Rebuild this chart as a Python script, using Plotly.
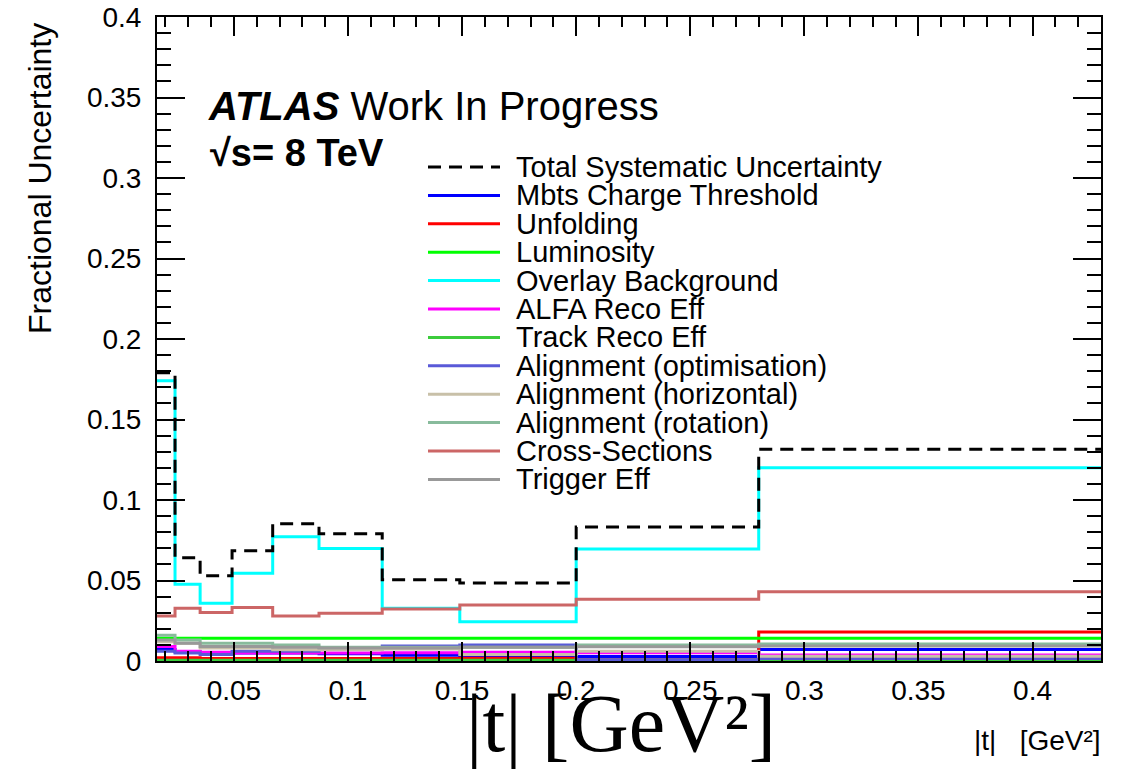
import plotly.graph_objects as go

# |t| bin edges [GeV^2]
t_edges = [0.0163, 0.0242, 0.0352, 0.0492, 0.0670, 0.0873, 0.1150, 0.1490, 0.2000, 0.2800, 0.4300]

# Fractional uncertainty per |t| bin for each source
total_syst   = [0.179, 0.0642, 0.053, 0.0685, 0.0853, 0.0791, 0.0505, 0.0485, 0.0832, 0.1315]
mbts         = [0.0072, 0.0058, 0.0050, 0.0050, 0.0050, 0.0045, 0.0035, 0.0030, 0.0028, 0.0072]
unfolding    = [0.0020, 0.0020, 0.0015, 0.0015, 0.0015, 0.0015, 0.0015, 0.0017, 0.0008, 0.0180]
luminosity   = [0.0142, 0.0142, 0.0142, 0.0142, 0.0142, 0.0142, 0.0142, 0.0142, 0.0142, 0.0142]
overlay_bkg  = [0.174, 0.0476, 0.0358, 0.0545, 0.0772, 0.0698, 0.0327, 0.0244, 0.0696, 0.1200]
alfa_reco    = [0.0090, 0.0060, 0.0055, 0.0050, 0.0050, 0.0050, 0.0052, 0.0055, 0.0052, 0.0037]
track_reco   = [0.0005, 0.0005, 0.0005, 0.0005, 0.0005, 0.0005, 0.0005, 0.0005, 0.0005, 0.0005]
align_opt    = [0.0060, 0.0050, 0.0040, 0.0060, 0.0060, 0.0075, 0.0093, 0.0100, 0.0008, 0.0016]
align_horiz  = [0.0120, 0.0110, 0.0080, 0.0080, 0.0070, 0.0070, 0.0075, 0.0040, 0.0060, 0.0030]
align_rot    = [0.0160, 0.0130, 0.0110, 0.0110, 0.0099, 0.0085, 0.0085, 0.0085, 0.0099, 0.0105]
cross_sec    = [0.0280, 0.0327, 0.0302, 0.0333, 0.0280, 0.0296, 0.0323, 0.0348, 0.0383, 0.0430]
trigger_eff  = [0.0130, 0.0110, 0.0090, 0.0090, 0.0085, 0.0080, 0.0080, 0.0085, 0.0088, 0.0093]

sources = [
    ("Total Systematic Uncertainty", total_syst, "#000000", "dash"),
    ("Mbts Charge Threshold", mbts, "#0000ff", "solid"),
    ("Unfolding", unfolding, "#ff0000", "solid"),
    ("Luminosity", luminosity, "#00ff00", "solid"),
    ("Overlay Background", overlay_bkg, "#00ffff", "solid"),
    ("ALFA Reco Eff", alfa_reco, "#ff00ff", "solid"),
    ("Track Reco Eff", track_reco, "#3ccc3c", "solid"),
    ("Alignment (optimisation)", align_opt, "#5a5ad8", "solid"),
    ("Alignment (horizontal)", align_horiz, "#c8c0a8", "solid"),
    ("Alignment (rotation)", align_rot, "#88bb9c", "solid"),
    ("Cross-Sections", cross_sec, "#cc6666", "solid"),
    ("Trigger Eff", trigger_eff, "#999999", "solid"),
]

W, H = 1127, 769
L, R, T, B = 157, 26, 17, 108
pw, ph = W - L - R, H - T - B


def px_x(p):
    return (p - L) / pw


def px_y(p):
    return (H - B - p) / ph


fig = go.Figure()

# histograms drawn as steps; the total goes on top
draw_order = sources[1:] + sources[:1]
for name, vals, color, dash in draw_order:
    fig.add_trace(go.Scatter(
        x=t_edges,
        y=vals + [vals[-1]],
        mode="lines",
        line=dict(shape="hv", color=color, width=3,
                  dash="13px,8px" if dash == "dash" else "solid"),
        name=name,
        showlegend=False,
        hoverinfo="skip",
    ))

font_main = "Liberation Sans, Arial, sans-serif"

shapes = []
annotations = []

# hand-placed legend
row0, row_step = 167, 28.4
for i, (name, vals, color, dash) in enumerate(sources):
    yc = px_y(row0 + i * row_step)
    shapes.append(dict(
        type="line", xref="paper", yref="paper",
        x0=px_x(428), x1=px_x(500), y0=yc, y1=yc,
        line=dict(color=color, width=3,
                  dash="13px,8px" if dash == "dash" else "solid"),
    ))
    annotations.append(dict(
        xref="paper", yref="paper", x=px_x(514), y=yc,
        xanchor="left", yanchor="middle", showarrow=False,
        text=name, font=dict(family=font_main, size=29, color="black"),
    ))

annotations += [
    dict(xref="paper", yref="paper", x=px_x(206), y=px_y(106),
         xanchor="left", yanchor="middle", showarrow=False,
         text="<b><i>ATLAS</i></b> Work In Progress",
         font=dict(family=font_main, size=40, color="black")),
    dict(xref="paper", yref="paper", x=px_x(208), y=px_y(153),
         xanchor="left", yanchor="middle", showarrow=False,
         text="<b>√s= 8 TeV</b>",
         font=dict(family=font_main, size=38, color="black")),
    dict(xref="paper", yref="paper", x=px_x(40), y=px_y(179),
         xanchor="center", yanchor="middle", showarrow=False, textangle=-90,
         text="Fractional Uncertainty",
         font=dict(family=font_main, size=32, color="black")),
    dict(xref="paper", yref="paper", x=px_x(621), y=px_y(723),
         xanchor="center", yanchor="middle", showarrow=False,
         text="|t| [GeV²]",
         font=dict(family="Liberation Serif, DejaVu Serif, serif", size=82, color="black")),
    dict(xref="paper", yref="paper", x=px_x(1103), y=px_y(740),
         xanchor="right", yanchor="middle", showarrow=False,
         text="|t|   [GeV²]",
         font=dict(family=font_main, size=28, color="black")),
]

axis_common = dict(
    showline=True, linecolor="black", linewidth=2, mirror="allticks",
    ticks="inside", tickcolor="black", tickwidth=2,
    showgrid=False, zeroline=False, automargin=False,
)

fig.update_layout(
    width=W, height=H,
    margin=dict(l=L, r=R, t=T, b=B, pad=0, autoexpand=False),
    paper_bgcolor="white", plot_bgcolor="white",
    showlegend=False,
    shapes=shapes,
    annotations=annotations,
    xaxis=dict(
        range=[t_edges[0], t_edges[-1]], dtick=0.05, tick0=0, ticklen=19,
        minor=dict(dtick=0.01, tick0=0, ticklen=10, ticks="inside", tickcolor="black", tickwidth=2),
        tickfont=dict(family=font_main, size=28, color="black"),
        ticklabelstandoff=3,
        **axis_common,
    ),
    yaxis=dict(
        range=[0, 0.4], dtick=0.05, tick0=0, ticklen=28,
        minor=dict(dtick=0.01, tick0=0, ticklen=14, ticks="inside", tickcolor="black", tickwidth=2),
        tickfont=dict(family=font_main, size=28, color="black"),
        ticklabelstandoff=8,
        **axis_common,
    ),
)

fig.write_html("out.html")
